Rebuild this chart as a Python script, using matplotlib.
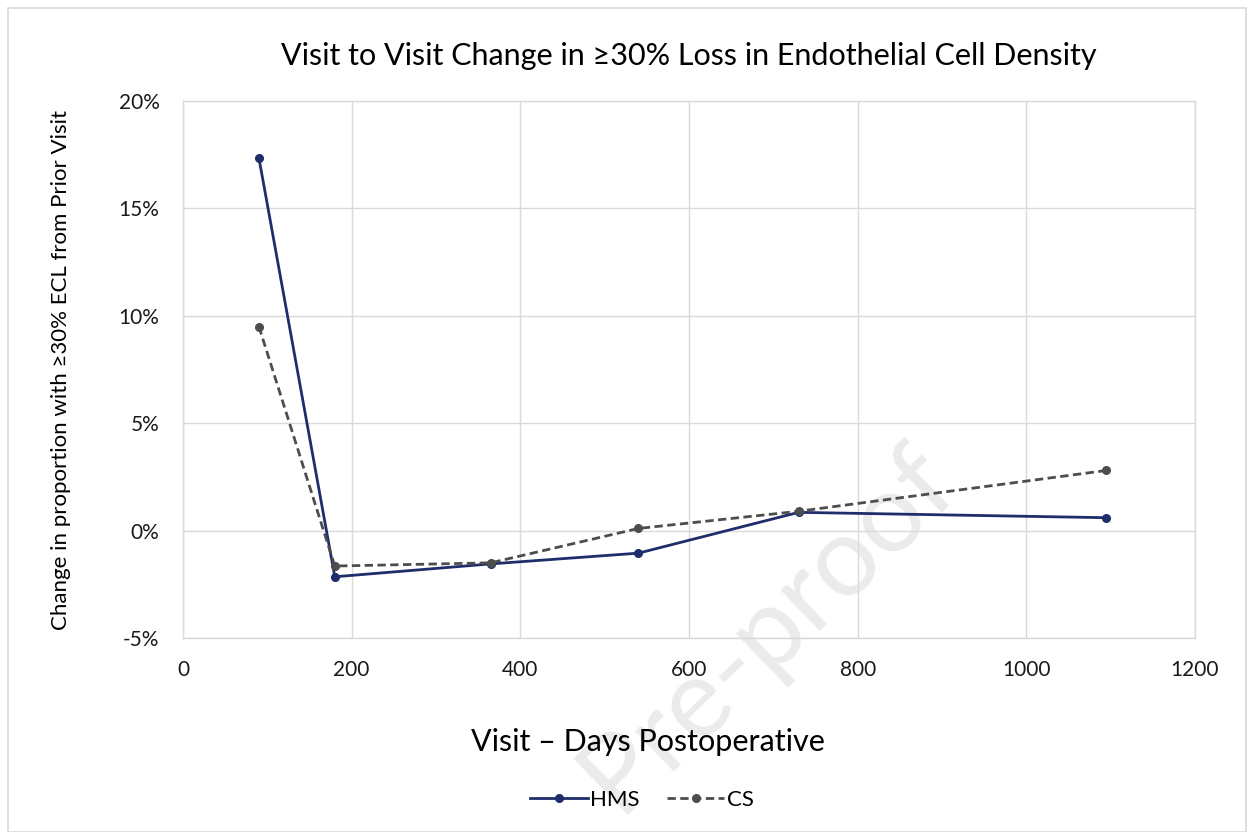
import matplotlib
matplotlib.use("Agg")
import matplotlib.pyplot as plt
from matplotlib.patches import Rectangle
from matplotlib.ticker import FuncFormatter, MultipleLocator

plt.rcParams['font.family'] = ['Lato', 'DejaVu Sans']

days = [90, 180, 365, 540, 730, 1095]
hms = [17.35, -2.15, -1.55, -1.05, 0.85, 0.6]
cs = [9.5, -1.65, -1.5, 0.1, 0.9, 2.8]

title = "Visit to Visit Change in \u226530% Loss in Endothelial Cell Density"
xlabel = "Visit \u2013 Days Postoperative"
ylabel = "Change in proportion with \u226530% ECL from Prior Visit"

fig = plt.figure(figsize=(12.54, 8.32), dpi=100)
ax = fig.add_axes([183/1254, 1-638/832, (1195-183)/1254, (638-101)/832])

# watermark
fig.text(768/1254, 1-628/832, "Pre-proof", rotation=44, fontsize=80, color='#ebebeb',
         ha='center', va='center', zorder=-5)

# figure border
fig.patches.append(Rectangle((8/1254, 0), 1-16/1254, 1-8/832, transform=fig.transFigure,
                             fill=False, edgecolor='#d9d9d9', linewidth=1.2))

ax.plot(days, hms, color='#1f2d6b', lw=2.0, marker='o', ms=5.5, label='HMS', zorder=3)
ax.plot(days, cs, color='#4d4d4d', lw=2.0, ls=(0, (3, 1.6)), marker='o', ms=5.5, label='CS', zorder=3)

ax.set_xlim(0, 1200)
ax.set_ylim(-5, 20)
ax.xaxis.set_major_locator(MultipleLocator(200))
ax.yaxis.set_major_locator(MultipleLocator(5))
ax.yaxis.set_major_formatter(FuncFormatter(lambda v, p: f"{v:.0f}%"))
ax.grid(True, color='#d9d9d9', lw=1.0)
ax.set_axisbelow(True)
for s in ax.spines.values():
    s.set_color('#d9d9d9')
    s.set_linewidth(1.0)
ax.tick_params(length=0, labelsize=15, colors='#1a1a1a')
ax.tick_params(axis='x', pad=16)
ax.tick_params(axis='y', pad=17)
ax.set_facecolor('none')

ax.set_title(title, fontsize=22, color='#000000', pad=26)
ax.set_xlabel(xlabel, fontsize=22, color='#000000', labelpad=36)
ax.xaxis.set_label_coords((648-183)/1012, -0.1, transform=ax.transAxes)
ax.xaxis.label.set_verticalalignment('center')
ax.xaxis.set_label_coords((648-183)/1012, -(742-638)/537)
ax.set_ylabel(ylabel, fontsize=16, color='#000000', labelpad=34)

leg = fig.legend(loc='center', bbox_to_anchor=(642/1254, 1-800/832), ncol=2,
                 frameon=False, fontsize=16, handlelength=2.6, columnspacing=1.2,
                 handletextpad=0.1)

fig.savefig("out.png", dpi=100)
